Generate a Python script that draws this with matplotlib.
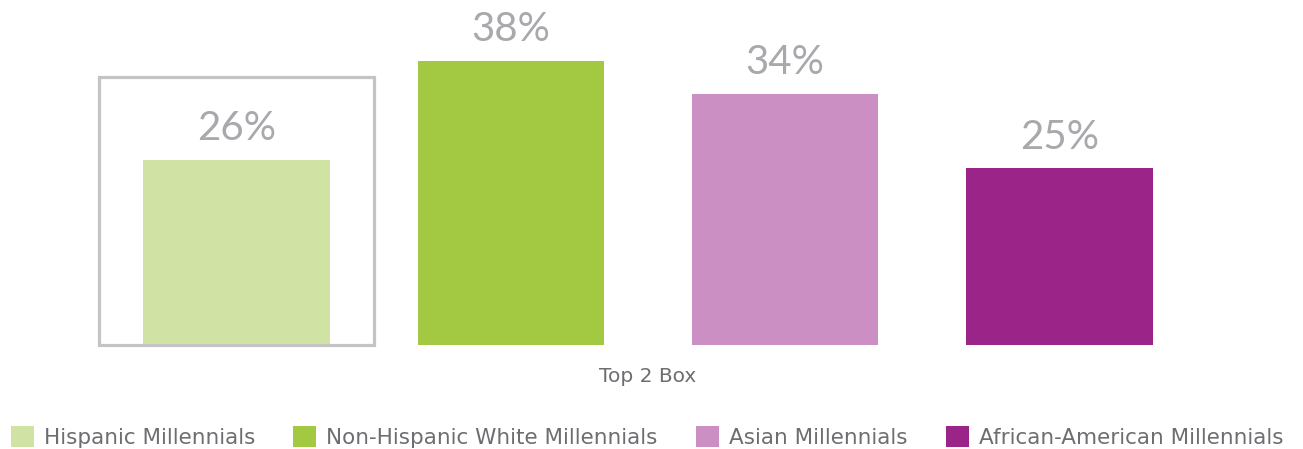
import matplotlib
matplotlib.use("Agg")
import matplotlib.pyplot as plt
from matplotlib.patches import Rectangle, Patch

plt.rcParams["font.family"] = ["Lato", "DejaVu Sans"]

# datos
groups = ["Hispanic Millennials", "Non-Hispanic White Millennials",
          "Asian Millennials", "African-American Millennials"]
top2_box = [26, 38, 34, 25]
colors = ["#d1e3a4", "#a3c943", "#cc8fc4", "#9b2489"]
category = "Top 2 Box"

fig = plt.figure(figsize=(13.03, 4.49), dpi=100)
ax = fig.add_axes([99.3 / 1303, 104 / 449, 1097.4 / 1303, 345 / 449])

x = range(len(groups))
bars = ax.bar(x, top2_box, width=0.68, color=colors, zorder=2)

for b, v in zip(bars, top2_box):
    ax.annotate(f"{v}%", (b.get_x() + b.get_width() / 2, v),
                xytext=(0, 14), textcoords="offset points",
                ha="center", va="baseline", fontsize=29, color="#a7a9ac")

# recuadro de resalte alrededor del primer grupo
ax.add_patch(Rectangle((0, 0), 0.25, 268 / 345, transform=ax.transAxes,
                       fill=False, edgecolor="#c4c4c4", linewidth=2.3,
                       zorder=3, clip_on=False))

ax.set_xlim(-0.5, len(groups) - 0.5)
ax.set_ylim(3.5, 45.4)
ax.set_xticks([])
ax.set_yticks([])
for s in ax.spines.values():
    s.set_visible(False)

fig.text(0.497, 1 - 376 / 449, category, ha="center", va="center",
         fontsize=14.5, color="#6d6e71", family="DejaVu Sans")

handles = [Patch(facecolor=c, edgecolor="none") for c in colors]
fig.legend(handles, groups, loc="center", bbox_to_anchor=(0.4965, 1 - 437 / 449),
           ncol=4, frameon=False, labelcolor="#6d6e71",
           prop={"family": "DejaVu Sans", "size": 15.5},
           handlelength=1.07, handleheight=1.07, handletextpad=0.47,
           columnspacing=1.77, borderpad=0)

fig.savefig("out.png", dpi=100)
